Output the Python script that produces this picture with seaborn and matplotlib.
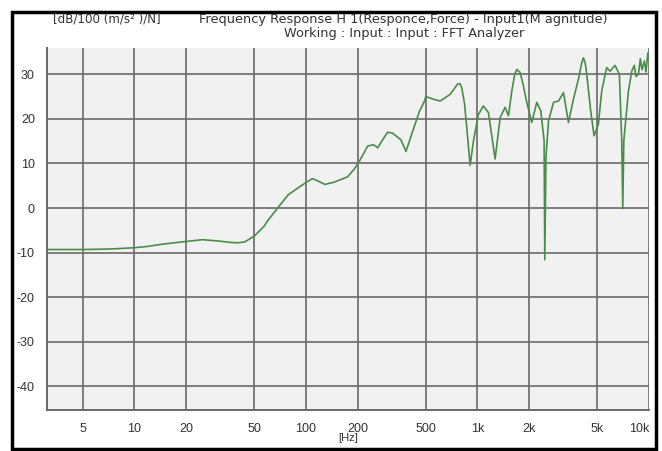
import matplotlib
matplotlib.use("Agg")
import matplotlib.pyplot as plt
from matplotlib.patches import Rectangle
import seaborn as sns
import pandas as pd

# ---- data ----
freq_hz = [3.11, 4, 5, 6, 7, 8, 10, 12, 14, 17, 20, 25, 31, 36, 40, 44, 50, 57, 60,
           70, 79, 89, 100, 109, 117, 129, 146, 175, 191, 205, 229, 248, 262, 280,
           299, 320, 358, 383, 419, 458, 490, 500, 555, 606, 693, 740, 765, 790,
           810, 840, 866, 906, 948, 1013, 1083, 1159, 1267, 1356, 1450, 1516, 1586,
           1650, 1695, 1773, 1850, 1938, 2073, 2217, 2339, 2446, 2468, 2508, 2596,
           2776, 2968, 3172, 3391, 3625, 3875, 4050, 4143, 4250, 4333, 4571, 4783,
           5068, 5300, 5665, 5925, 6336, 6717, 6934, 7030, 7130, 7590, 7930, 8200,
           8400, 8675, 8900, 9100, 9400, 9600, 9850, 10000]
magnitude_db = [-9.3, -9.3, -9.3, -9.25, -9.2, -9.1, -8.9, -8.6, -8.2, -7.8, -7.5,
                -7.1, -7.4, -7.7, -7.8, -7.6, -6.3, -4.1, -2.8, 0.5, 3.0, 4.4, 5.7,
                6.6, 6.1, 5.3, 5.8, 7.0, 8.7, 10.5, 13.9, 14.2, 13.5, 15.3, 17.0,
                16.8, 15.3, 12.7, 17.2, 21.6, 23.9, 25.0, 24.4, 24.0, 25.5, 27.0,
                27.8, 27.9, 27.0, 23.5, 18.1, 9.6, 15.1, 21.0, 22.9, 21.4, 11.0,
                20.3, 22.6, 20.7, 26.3, 30.0, 31.1, 30.4, 27.5, 23.7, 19.2, 23.7,
                21.8, 15.1, -11.6, 11.4, 19.6, 23.7, 24.0, 25.9, 19.2, 24.4, 28.9,
                32.5, 33.7, 32.5, 30.0, 21.8, 16.2, 18.8, 26.3, 31.5, 30.7, 32.0,
                30.0, 15.1, -0.1, 15.1, 26.3, 30.7, 32.0, 29.5, 30.0, 33.5, 31.0,
                33.0, 30.5, 34.8, 33.5]

x_ticks = [5, 10, 20, 50, 100, 200, 500, 1000, 2000, 5000, 10000]
x_tick_labels = ["5", "10", "20", "50", "100", "200", "500", "1k", "2k", "5k", "10k"]
y_ticks = [30, 20, 10, 0, -10, -20, -30, -40]
y_tick_labels = ["30", "20", "10", "0", "-10", "-20", "-30", "-40"]

unit_label = "[dB/100 (m/s\u00b2 )/N]"
title_line1 = "Frequency Response H 1(Responce,Force) - Input1(M agnitude)"
title_line2 = "Working : Input : Input : FFT Analyzer"
x_label = "[Hz]"

df = pd.DataFrame({"freq": freq_hz, "mag": magnitude_db})

sns.set_style("white")
plt.rcParams["font.family"] = ["Liberation Sans", "DejaVu Sans"]

fig = plt.figure(figsize=(6.62, 4.51), dpi=100)
fig.patch.set_facecolor("white")
ax = fig.add_axes([0.0715, 0.0909, 0.9804 - 0.0715, 0.8936 - 0.0909])
ax.set_facecolor("#f1f1f1")

sns.lineplot(data=df, x="freq", y="mag", ax=ax, color="#4a8c4a", linewidth=1.2,
             estimator=None, sort=False, legend=False)

ax.set_xscale("log")
ax.set_xlim(3.11, 10000)
ax.set_ylim(-45.3, 35.9)
ax.set_xticks(x_ticks)
ax.set_xticklabels(x_tick_labels)
ax.minorticks_off()
ax.set_yticks(y_ticks)
ax.set_yticklabels(y_tick_labels)
ax.grid(True, color="#6a6a6a", linewidth=1.2)
ax.set_axisbelow(True)

for side in ["top", "right"]:
    ax.spines[side].set_visible(False)
for side in ["left", "bottom"]:
    ax.spines[side].set_color("#6a6a6a")
    ax.spines[side].set_linewidth(1.4)

ax.tick_params(axis="both", which="major", direction="out", length=6, width=1.1,
               color="#6a6a6a", labelsize=9, labelcolor="#333333", pad=3)
ax.tick_params(axis="x", length=5, pad=4)
# last label sits to the left of its tick, inside the frame
ax.get_xticklabels()[-1].set_horizontalalignment("right")
ax.set_xlabel(x_label, fontsize=8, color="#333333", labelpad=-1)
ax.set_ylabel("")

title_font = ["DejaVu Sans"]
fig.text(53 / 662, 1 - 19 / 451, unit_label, fontsize=8.6, color="#333333",
         ha="left", va="center", family=title_font)
fig.text(199 / 662, 1 - 19 / 451, title_line1, fontsize=9.3, color="#333333",
         ha="left", va="center", family=title_font)
fig.text(404 / 662, 1 - 33 / 451, title_line2, fontsize=9.3, color="#333333",
         ha="center", va="center", family=title_font)

fig.patches.append(Rectangle((12 / 662, 2 / 451), (656 - 12) / 662, (439 - 2) / 451,
                             transform=fig.transFigure, fill=False,
                             edgecolor="black", linewidth=2.5))

fig.savefig("out.png", dpi=100, facecolor="white")
